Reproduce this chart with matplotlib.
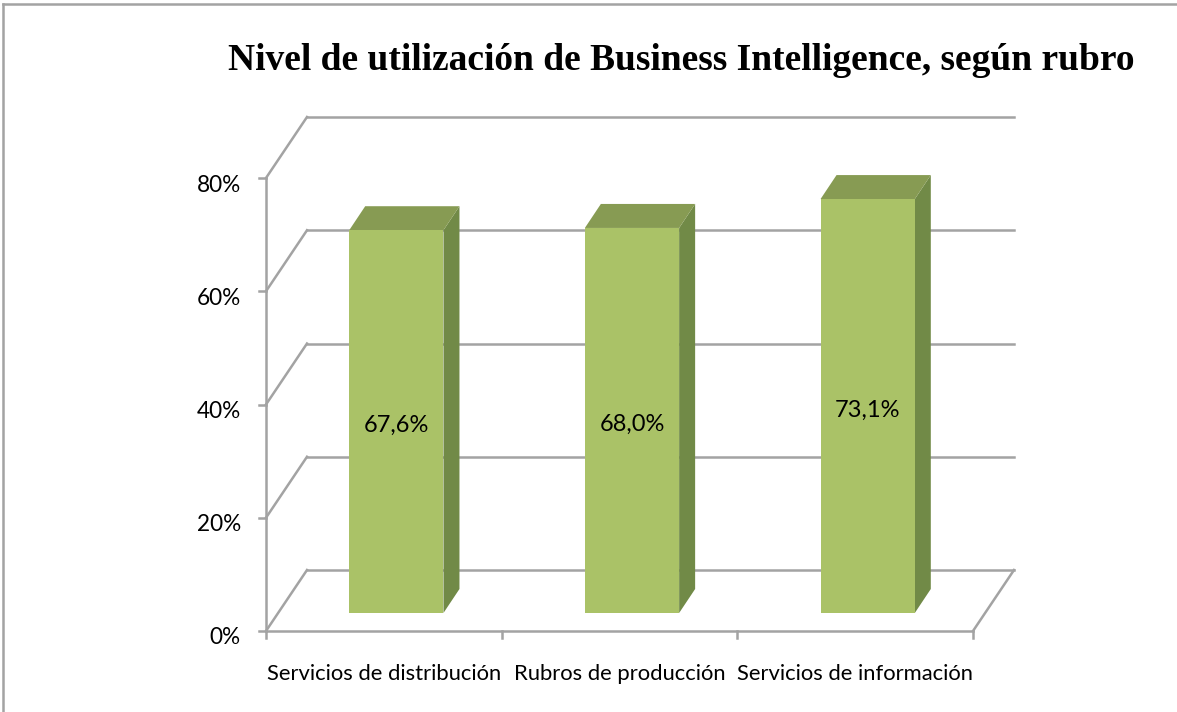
import matplotlib
matplotlib.use('Agg')
import matplotlib.pyplot as plt
from matplotlib.lines import Line2D
from matplotlib.transforms import Affine2D

# Datos
categorias = ['Servicios de distribución', 'Rubros de producción', 'Servicios de información']
valores = [67.6, 68.0, 73.1]
etiquetas = ['67,6%', '68,0%', '73,1%']
ticks_y = [0, 20, 40, 60, 80]
ticks_y_txt = ['0%', '20%', '40%', '60%', '80%']

ANCHO, ALTO = 1177, 712
GRIS = '#A3A3A3'
LW = 1.8

fig = plt.figure(figsize=(ANCHO / 100, ALTO / 100), dpi=100, facecolor='white')
# plano frontal del grafico, en pixeles
izq, der, arriba, abajo = 266, 973, 178, 631
ax = fig.add_axes([izq / ANCHO, 1 - abajo / ALTO, (der - izq) / ANCHO, (abajo - arriba) / ALTO])
ax.set_xlim(0, 3)
ax.set_ylim(0, 80)
ax.axis('off')

# desplazamientos de la perspectiva (pixeles)
fondo = ax.transData + Affine2D().translate(41, 61)
barra = ax.transData + Affine2D().translate(12.5, 18)
px_x = 3 / (der - izq)
px_y = 80 / (abajo - arriba)
prof_x = 16 * px_x
prof_y = 24 * px_y

# pared del fondo y piso
for t, txt in zip(ticks_y, ticks_y_txt):
    ax.plot([0, 3], [t, t], color=GRIS, lw=LW, transform=fondo, clip_on=False, zorder=1)
    ax.plot([0, 41 * px_x], [t, t + 61 * px_y], color=GRIS, lw=LW, clip_on=False, zorder=1)
    ax.plot([-7 * px_x, 0], [t, t], color=GRIS, lw=LW, clip_on=False, zorder=1)
    ax.text(-25 * px_x, t - 7 * px_y, txt, ha='right', va='center', fontsize=16.3, family='Lato', color='black')
ax.plot([3, 3 + 41 * px_x], [0, 61 * px_y], color=GRIS, lw=LW, clip_on=False, zorder=1)
ax.plot([0, 0], [0, 80], color=GRIS, lw=LW, clip_on=False, zorder=1)
ax.plot([0, 3], [0, 0], color=GRIS, lw=LW, clip_on=False, zorder=1)
for i in range(4):
    ax.plot([i, i], [0, -7 * px_y], color=GRIS, lw=LW, clip_on=False, zorder=1)

# barras
for i, v in enumerate(valores):
    x0 = i + 0.5 - 0.2
    x1 = i + 0.5 + 0.2
    ax.bar(i + 0.5, v, width=0.4, color='#AAC267', transform=barra, clip_on=False, zorder=3)
    ax.fill([x1, x1 + prof_x, x1 + prof_x, x1], [0, prof_y, v + prof_y, v], color='#718A47', lw=0,
            transform=barra, clip_on=False, zorder=2)
    ax.fill([x0, x1, x1 + prof_x, x0 + prof_x], [v, v, v + prof_y, v + prof_y], color='#879B53', lw=0,
            transform=barra, clip_on=False, zorder=2)
    ax.text(i + 0.5, v / 2 - 4 * px_y, etiquetas[i], ha='center', va='center', fontsize=17, family='Lato',
            color='black', transform=barra, zorder=4)

# categorias
for i, c in enumerate(categorias):
    ax.text(i + 0.5, -43 * px_y, c, ha='center', va='center', fontsize=15.8, family='Lato', color='black')

fig.text(681 / ANCHO, 1 - 61 / ALTO, 'Nivel de utilización de Business Intelligence, según rubro',
         ha='center', va='center', fontsize=27, family='Liberation Serif', fontweight='bold', color='black')

# marco
fig.add_artist(Line2D([3 / ANCHO, 3 / ANCHO], [0, 1 - 4 / ALTO], color=GRIS, lw=LW))
fig.add_artist(Line2D([3 / ANCHO, 1], [1 - 4 / ALTO, 1 - 4 / ALTO], color=GRIS, lw=LW))

fig.savefig('out.png', dpi=100)
